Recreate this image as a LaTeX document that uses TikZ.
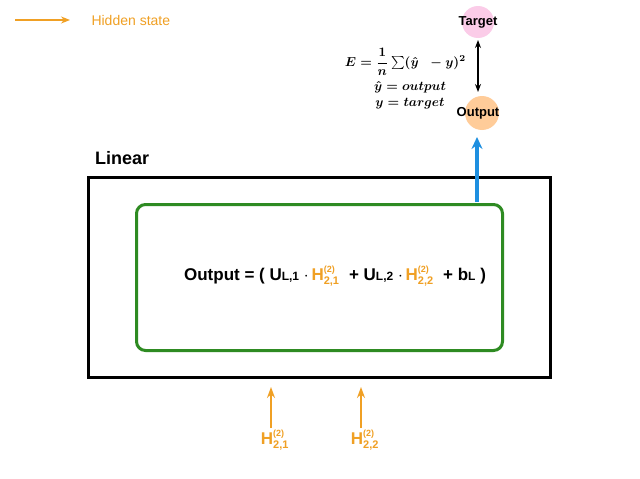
\documentclass[tikz,border=0pt]{standalone}
\usepackage{fontspec}
\usepackage{amsmath}
\usepackage{graphicx}
\setmainfont{Liberation Sans}
\usetikzlibrary{arrows.meta}
\definecolor{org}{HTML}{F0A024}
\definecolor{grn}{HTML}{2E8B22}
\definecolor{blu}{HTML}{1E8FE0}
\newcommand{\Hh}[1]{\textcolor{org}{H$^{\text{\fontsize{9}{9}\selectfont(2)}}_{\text{\fontsize{11}{11}\selectfont #1}}$}}
\newcommand{\bm}[1]{\scalebox{1.3}{\mathversion{bold}$#1$}}
\begin{document}
\begin{tikzpicture}[x=1pt,y=-1pt,
  harrow/.style={org,line width=1.5pt,-{Stealth[length=11pt,width=8pt]}},
  lbl/.style={font=\bfseries\fontsize{13}{14}\selectfont,inner sep=0pt}]
\useasboundingbox[fill=white] (0,0) rectangle (640,479);
\coordinate (l1) at (15,20); \coordinate (l2) at (70,20);
\draw[org,line width=1.2pt,-{Stealth[length=9pt,width=7pt]}] (l1) -- (l2);
\node[anchor=west,text=org,font=\fontsize{14}{16}\selectfont] (leg) at (88,20) {Hidden state};
\node[circle,fill=magenta!20,minimum size=32pt,inner sep=0pt] (tc) at (478,22) {};
\node[lbl] (t) at (478,22) {Target};
\node[circle,fill=orange!40,minimum size=34pt,inner sep=0pt] (oc) at (482,113) {};
\node[lbl] (o) at (478,113) {Output};
\draw[line width=1.2pt,{Stealth[length=8pt,width=6pt]}-{Stealth[length=8pt,width=6pt]}] (478,40) -- (478,92);
\node[anchor=east,inner sep=0pt] (eq) at (466,62) {\bm{E=\dfrac{1}{n}\sum(\hat y\;\;-y)^2}};
\node[inner sep=0pt] (e2) at (410,87) {\bm{\hat y = output}};
\node[inner sep=0pt] (e3) at (410,104) {\bm{y = target}};
\node[anchor=west,font=\bfseries\fontsize{18}{20}\selectfont,inner sep=0pt] (lin) at (95,158) {Linear};
\node[draw,line width=2.5pt,minimum width=462pt,minimum height=200pt,anchor=north west] (box) at (87,176) {};
\node[draw=grn,line width=3pt,rounded corners=9pt,minimum width=366pt,minimum height=146pt,anchor=north west] (gb) at (135,203) {};
\coordinate (bt) at (477,202);
\draw[blu,line width=3.5pt,-{Stealth[length=12pt,width=11pt]}] (bt) -- (477,137);
\node[font=\bfseries\fontsize{17}{20}\selectfont,inner sep=0pt] (f) at (335,276)
  {Output = ( U{\fontsize{12}{12}\selectfont L,1} $\cdot$\,\Hh{2,1}\; + U{\fontsize{12}{12}\selectfont L,2} $\cdot$\,\Hh{2,2}\; + b{\fontsize{12}{12}\selectfont L} )};
\node[font=\bfseries\fontsize{17}{18}\selectfont,inner sep=0pt] (h1) at (275,440) {\Hh{2,1}};
\node[font=\bfseries\fontsize{17}{18}\selectfont,inner sep=0pt] (h2) at (365,440) {\Hh{2,2}};
\draw[harrow] (271,428) -- (271,387);
\draw[harrow] (361,428) -- (361,387);
\end{tikzpicture}
\end{document}
